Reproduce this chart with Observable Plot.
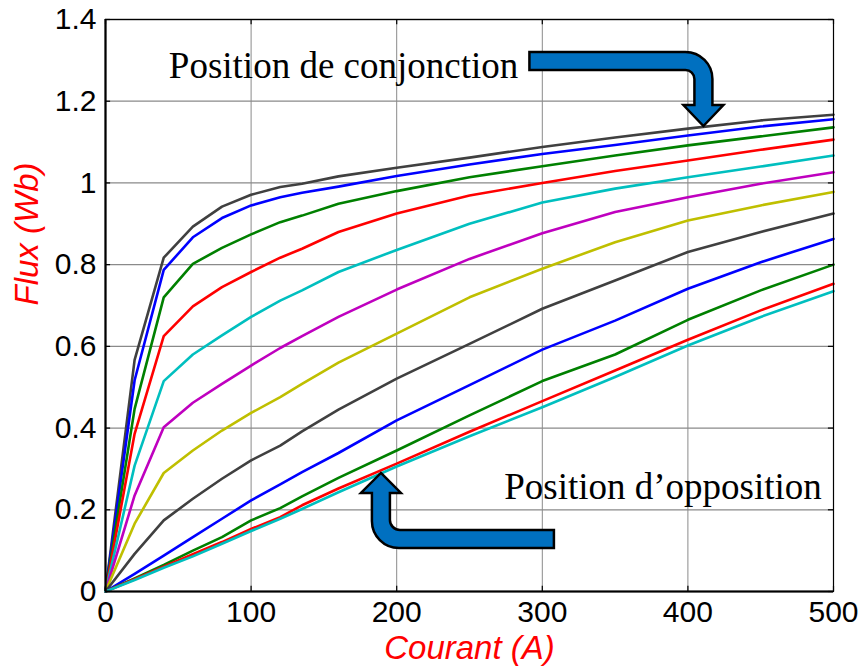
<!DOCTYPE html>
<html>
<head>
<meta charset="utf-8">
<script src="https://cdn.jsdelivr.net/npm/d3@7"></script>
<script src="https://cdn.jsdelivr.net/npm/@observablehq/plot@0.6"></script>
<style>
  html, body { margin: 0; padding: 0; background: white; }
</style>
</head>
<body>
<div id="chart"></div>
<script>
// Current (A) sample positions
const current = [0, 20, 40, 60, 80, 100, 120, 135, 160, 200, 250, 300, 350, 400, 450, 500];

// Flux (Wb) curves, from conjunction (top) to opposition (bottom)
const flux1  = [0, 0.567, 0.817, 0.893, 0.942, 0.971, 0.990, 0.998, 1.016, 1.037, 1.062, 1.088, 1.111, 1.133, 1.153, 1.167];
const flux2  = [0, 0.517, 0.787, 0.867, 0.914, 0.945, 0.965, 0.976, 0.991, 1.017, 1.045, 1.071, 1.093, 1.116, 1.138, 1.156];
const flux3  = [0, 0.447, 0.720, 0.802, 0.841, 0.874, 0.904, 0.920, 0.949, 0.980, 1.014, 1.041, 1.067, 1.092, 1.114, 1.136];
const flux4  = [0, 0.386, 0.625, 0.698, 0.745, 0.782, 0.817, 0.839, 0.880, 0.925, 0.969, 1.000, 1.029, 1.055, 1.081, 1.106];
const flux5  = [0, 0.308, 0.515, 0.580, 0.627, 0.672, 0.712, 0.737, 0.782, 0.836, 0.900, 0.952, 0.986, 1.014, 1.040, 1.067];
const flux6  = [0, 0.235, 0.402, 0.462, 0.508, 0.553, 0.596, 0.625, 0.672, 0.739, 0.814, 0.877, 0.929, 0.965, 0.998, 1.026];
const flux7  = [0, 0.166, 0.290, 0.345, 0.394, 0.437, 0.476, 0.508, 0.560, 0.631, 0.720, 0.790, 0.855, 0.908, 0.945, 0.978];
const flux8  = [0, 0.092, 0.174, 0.227, 0.276, 0.321, 0.357, 0.392, 0.445, 0.521, 0.606, 0.692, 0.761, 0.831, 0.880, 0.925];
const flux9  = [0, 0.043, 0.088, 0.133, 0.178, 0.223, 0.262, 0.292, 0.339, 0.419, 0.505, 0.592, 0.663, 0.741, 0.806, 0.863];
const flux10 = [0, 0.032, 0.065, 0.100, 0.133, 0.174, 0.204, 0.233, 0.278, 0.345, 0.431, 0.515, 0.580, 0.665, 0.737, 0.800];
const flux11 = [0, 0.030, 0.061, 0.091, 0.121, 0.153, 0.182, 0.211, 0.252, 0.313, 0.391, 0.466, 0.541, 0.616, 0.688, 0.753];
const flux12 = [0, 0.028, 0.058, 0.086, 0.117, 0.148, 0.178, 0.202, 0.243, 0.306, 0.380, 0.451, 0.525, 0.602, 0.672, 0.735];

const curves = [flux1, flux2, flux3, flux4, flux5, flux6, flux7, flux8, flux9, flux10, flux11, flux12];
const curveColors = ["#404040", "#0000ff", "#008000", "#ff0000", "#00bfbf", "#bf00bf", "#bfbf00",
                     "#404040", "#0000ff", "#008000", "#ff0000", "#00bfbf"];

// Axis ticks
const xTicks = [0, 100, 200, 300, 400, 500];
const xTickLabels = ["0", "100", "200", "300", "400", "500"];
const yTicks = [0, 0.2, 0.4, 0.6, 0.8, 1.0, 1.2, 1.4];
const yTickLabels = ["0", "0.2", "0.4", "0.6", "0.8", "1", "1.2", "1.4"];

// Texts
const xLabel = "Courant (A)";
const yLabel = "Flux (Wb)";
const annConj = {x: 43.5, y: 1.2575, label: "Position de conjonction"};
const annOpp  = {x: 492, y: 0.227, label: "Position d\u2019opposition"};
// Arrow tips (data coordinates)
const arrowConjTip = {x: 411, y: 1.138};
const arrowOppTip  = {x: 189.5, y: 0.289};

const rows = [];
curves.forEach((vals, k) => {
  vals.forEach((v, i) => rows.push({curve: k, current: current[i], flux: v, color: curveColors[k]}));
});

const xLabelMap = new Map(xTicks.map((t, i) => [t, xTickLabels[i]]));
const yLabelMap = new Map(yTicks.map((t, i) => [t, yTickLabels[i]]));

const gridColor = "#8a8a8a";
const sans = "Liberation Sans, Arial, Helvetica, sans-serif";
const serif = "Liberation Serif, 'Times New Roman', serif";

const plot = Plot.plot({
  width: 862,
  height: 671,
  marginLeft: 105,
  marginRight: 29,
  marginTop: 19,
  marginBottom: 80,
  x: {domain: [0, 500]},
  y: {domain: [0, 1.4]},
  color: {type: "identity"},
  style: {fontFamily: sans, fontSize: "30px", background: "white", color: "black", overflow: "visible"},
  marks: [
    Plot.gridX(xTicks, {stroke: gridColor, strokeOpacity: 1, strokeWidth: 1}),
    Plot.gridY(yTicks, {stroke: gridColor, strokeOpacity: 1, strokeWidth: 1.3}),
    Plot.line(rows, {x: "current", y: "flux", z: "curve", stroke: "color", strokeWidth: 2.6}),
    // inward ticks (MATLAB style)
    Plot.ruleX(xTicks, {y1: 0, y2: 0.013, stroke: "black", strokeWidth: 1.2}),
    Plot.ruleX(xTicks, {y1: 1.4, y2: 1.387, stroke: "black", strokeWidth: 1.2}),
    Plot.ruleY(yTicks, {x1: 0, x2: 3.5, stroke: "black", strokeWidth: 1.2}),
    Plot.ruleY(yTicks, {x1: 500, x2: 496.5, stroke: "black", strokeWidth: 1.2}),
    Plot.frame({stroke: "black", strokeWidth: 1.2}),
    Plot.ruleX([0], {stroke: "black", strokeWidth: 2.2}),
    Plot.ruleY([0], {stroke: "black", strokeWidth: 2.2}),
    Plot.axisX(xTicks, {tickSize: 0, tickPadding: 9, tickFormat: d => xLabelMap.get(d), label: null, fontSize: 30}),
    Plot.axisY(yTicks, {tickSize: 0, tickPadding: 9, tickFormat: d => yLabelMap.get(d), label: null, fontSize: 30}),
    Plot.text([xLabel], {frameAnchor: "bottom", dy: 67, lineAnchor: "bottom", fill: "#ff0000",
      fontStyle: "italic", fontSize: 33, fontFamily: sans}),
    Plot.text([yLabel], {frameAnchor: "left", dx: -78, rotate: -90, lineAnchor: "middle", fill: "#ff0000",
      fontStyle: "italic", fontSize: 33, fontFamily: sans}),
    Plot.text([annConj], {x: "x", y: "y", text: "label", textAnchor: "start", lineAnchor: "bottom",
      fontSize: 37, fontFamily: serif, fill: "black"}),
    Plot.text([annOpp], {x: "x", y: "y", text: "label", textAnchor: "end", lineAnchor: "bottom",
      fontSize: 37, fontFamily: serif, fill: "black"})
  ]
});

document.getElementById("chart").appendChild(plot);

// Block arrows anchored at data points through the plot's scales
const sx = plot.scale("x"), sy = plot.scale("y");
const svg = d3.select(plot);
function arrowConjPath(tx, ty) {
  const p = (dx, dy) => `${tx + dx},${ty + dy}`;
  return `M${p(-174,-74)} L${p(-18,-74)} A27 27 0 0 1 ${p(9,-47)} L${p(9,-21)} L${p(20,-21)} L${p(0,0)} ` +
         `L${p(-20,-21)} L${p(-9,-21)} L${p(-9,-47)} A9 9 0 0 0 ${p(-18,-56)} L${p(-174,-56)} Z`;
}
function arrowOppPath(tx, ty) {
  const p = (dx, dy) => `${tx + dx},${ty + dy}`;
  return `M${p(0,0)} L${p(20,20)} L${p(9,20)} L${p(9,47)} A10 10 0 0 0 ${p(19,57)} L${p(173,57)} ` +
         `L${p(173,75)} L${p(18,75)} A27 27 0 0 1 ${p(-9,48)} L${p(-9,20)} L${p(-20,20)} Z`;
}
svg.append("path")
  .attr("d", arrowConjPath(sx.apply(arrowConjTip.x), sy.apply(arrowConjTip.y)))
  .attr("fill", "#0070c0").attr("stroke", "black").attr("stroke-width", 2.5).attr("stroke-linejoin", "miter");
svg.append("path")
  .attr("d", arrowOppPath(sx.apply(arrowOppTip.x), sy.apply(arrowOppTip.y)))
  .attr("fill", "#0070c0").attr("stroke", "black").attr("stroke-width", 2.5).attr("stroke-linejoin", "miter");
</script>
</body>
</html>
